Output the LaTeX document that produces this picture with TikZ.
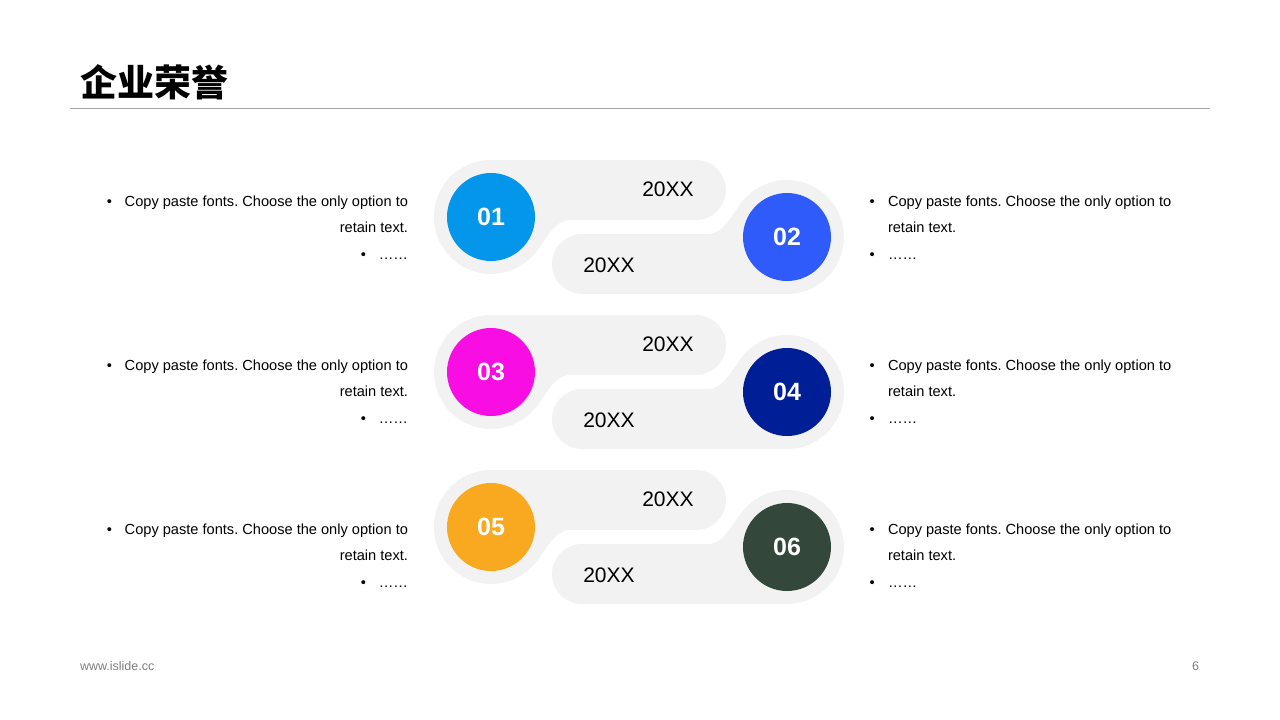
\documentclass[tikz,border=0pt]{standalone}
\usepackage{fontspec}
\setmainfont{Liberation Sans}
\newfontfamily\cjk{Noto Sans CJK SC}
\frenchspacing
\definecolor{halo}{HTML}{F2F2F2}
\definecolor{rulecol}{HTML}{A6A6A6}
\definecolor{footgrey}{HTML}{7F7F7F}
\definecolor{cA}{HTML}{0396EA}
\definecolor{cB}{HTML}{2F5BFB}
\definecolor{cC}{HTML}{F80DE2}
\definecolor{cD}{HTML}{001E96}
\definecolor{cE}{HTML}{F8A91F}
\definecolor{cF}{HTML}{33473A}
\tikzset{
  haloshape/.style={fill=halo},
  numdisk/.style={circle, minimum size=88pt, text=white, font=\bfseries\fontsize{25}{28}\selectfont},
  yearlabel/.style={font=\fontsize{21}{24}\selectfont, text=black},
  lefttext/.style={align=right, font=\fontsize{14.6}{26.5}\selectfont, anchor=north east},
  righttext/.style={align=left, font=\fontsize{14.6}{26.5}\selectfont, anchor=north west},
}
\newcommand{\honorgroup}[6]{%
  \begin{scope}[shift={(639,#1)}]
    % halos
    \fill[haloshape] (-148,-10) circle (57);
    \fill[haloshape] (148,10) circle (57);
    % upper pill
    \fill[haloshape] (-148,-67) rectangle (57,-7);
    \fill[haloshape] (57,-37) circle (30);
    % lower pill
    \fill[haloshape] (-57,7) rectangle (148,67);
    \fill[haloshape] (-57,37) circle (30);
    % fillets
    \fill[haloshape] (-69,-7) .. controls (-85,-7) and (-92.7,12.8) .. (-104.3,26.6) -- (-148,-10) -- cycle;
    \fill[haloshape] (69,7) .. controls (85,7) and (92.7,-12.8) .. (104.3,-26.6) -- (148,10) -- cycle;
    % disks
    \node[numdisk, fill=#2] (#6a) at (-148,-10) {#4};
    \node[numdisk, fill=#3] (#6b) at (148,10) {#5};
    \node[yearlabel] (#6ya) at (29,-38) {20XX};
    \node[yearlabel] (#6yb) at (-30,38) {20XX};
  \end{scope}}
\begin{document}
\begin{tikzpicture}[x=1pt,y=-1pt, every node/.style={inner sep=0pt, outer sep=0pt}]
\useasboundingbox[fill=white] (0,0) rectangle (1280,720);
% title
\node[anchor=west, font=\cjk\bfseries\fontsize{37}{40}\selectfont] (title) at (80,82) {企业荣誉};
\coordinate (rl) at (70,108);
\coordinate (rr) at (1210,108);
\draw[rulecol, line width=1pt] (rl) -- (rr);
% groups
\honorgroup{227}{cA}{cB}{01}{02}{g1}
\honorgroup{382}{cC}{cD}{03}{04}{g2}
\honorgroup{537}{cE}{cF}{05}{06}{g3}
% left texts
\foreach \yy/\nm in {195.8/l1, 359.8/l2, 523.8/l3}{
  \node[lefttext] (\nm) at (408,\yy) {•\hspace{12.7pt}Copy paste fonts. Choose the only option to\\retain text.\\•\hspace{12.7pt}……};
}
% right texts
\foreach \yy/\nm in {195.8/r1, 359.8/r2, 523.8/r3}{
  \node[righttext] (\nm) at (869.5,\yy) {\makebox[18.5pt][l]{•}Copy paste fonts. Choose the only option to\\\hspace*{18.5pt}retain text.\\\makebox[18.5pt][l]{•}……};
}
% footer
\node[anchor=base west, font=\fontsize{12.5}{14}\selectfont, text=footgrey] (url) at (80,670) {www.islide.cc};
\node[anchor=base, font=\fontsize{12.5}{14}\selectfont, text=footgrey] (page) at (1195.5,670) {6};
\end{tikzpicture}
\end{document}
